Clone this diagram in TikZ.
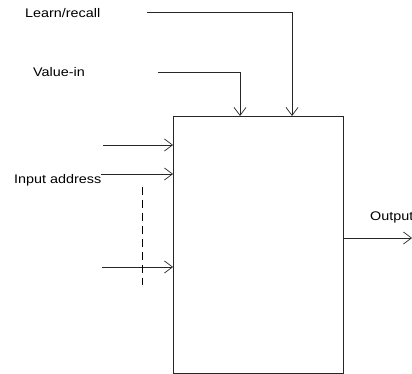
\documentclass[tikz,border=0pt]{standalone}
\usepackage{fontspec}
\usepackage{graphicx}
\setmainfont{Liberation Sans}
\usetikzlibrary{arrows.meta}
\newcommand{\wtxt}[1]{\scalebox{1.15}[1]{#1}}
\begin{document}
\begin{tikzpicture}[x=1pt,y=-1pt,
  wire/.style={line width=0.9pt,draw=black!85,-{Straight Barb[length=8pt,width=12pt,line width=0.7pt]}},
  lbl/.style={font=\fontsize{12.5}{14}\selectfont,inner sep=0pt,anchor=base west}]
\useasboundingbox (0,0) rectangle (412,374);
\node[draw=black!85,line width=0.9pt,minimum width=170pt,minimum height=257pt,inner sep=0pt,anchor=north west] (box) at (173,116) {};
\node[lbl] (lr) at (25,18) {\wtxt{Learn/recall}};
\node[lbl] (vi) at (33,76.5) {\wtxt{Value-in}};
\node[lbl] (ia) at (14,183) {\wtxt{Input address}};
\node[lbl] (out) at (370,220) {\wtxt{Output}};
\coordinate (lrs) at (147,12);
\coordinate (vis) at (158,72);
\coordinate (a1) at (103,145);
\coordinate (a2) at (101,174);
\coordinate (a3) at (102,267);
\coordinate (oe) at (412,238);
\draw[wire] (lrs) -| (box.north west -| 292,0);
\draw[wire] (vis) -| (box.north west -| 240,0);
\draw[wire] (a1) -- (a1 -| box.west);
\draw[wire] (a2) -- (a2 -| box.west);
\draw[wire] (a3) -- (a3 -| box.west);
\draw[wire] (box.east |- oe) -- (oe);
\coordinate (d1) at (142,187);
\coordinate (d2) at (142,285);
\draw[line width=0.9pt,dash pattern=on 8pt off 5pt] (d1) -- (d2);
\end{tikzpicture}
\end{document}
